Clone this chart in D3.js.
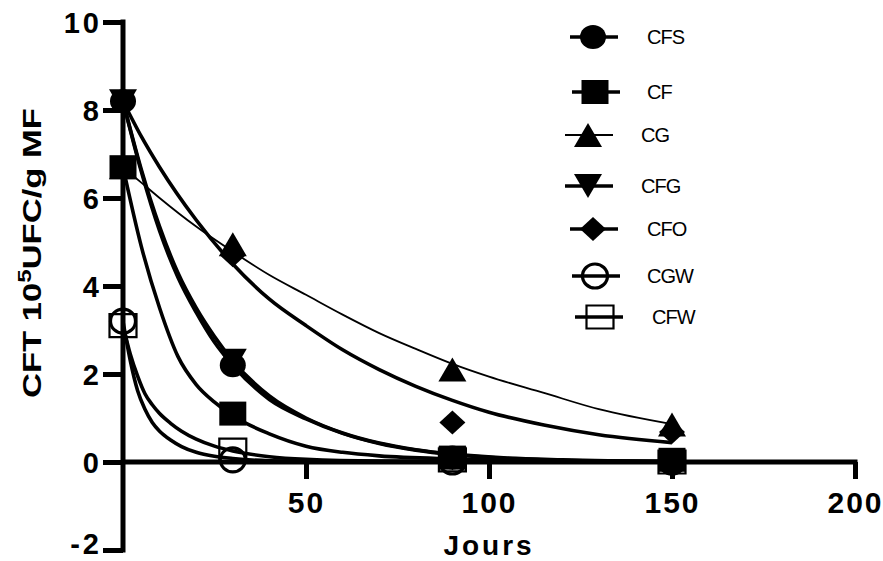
<!DOCTYPE html>
<html>
<head>
<meta charset="utf-8">
<script src="https://cdn.jsdelivr.net/npm/d3@7"></script>
<style>
  body { margin: 0; background: #fff; }
  svg { display: block; }
  text { font-family: "Liberation Sans", Arial, sans-serif; }
</style>
</head>
<body>
<svg></svg>
<script>
// sampling days
let days = [0, 30, 90, 150];
let seriesNames = ['CFS', 'CF', 'CG', 'CFG', 'CFO', 'CGW', 'CFW'];

// measured points (10^5 UFC/g), one value per day
let cfsValues = [8.2, 2.2, 0.1, 0.02];
let cfValues  = [6.7, 1.1, 0.1, 0.05];
let cgValues  = [6.7, 4.95, 2.1, 0.85];
let cfgValues = [8.2, 2.3, 0.08, 0.0];
let cfoValues = [8.2, 4.7, 0.9, 0.68];
let cgwValues = [3.2, 0.05, 0.0, 0.0];
let cfwValues = [3.1, 0.27, 0.05, 0.0];

// fitted decay curves: [day, value]
let cfsCurve = [[0, 8.2], [5, 6.6], [10, 5.25], [15, 4.2], [20, 3.4], [25, 2.72], [30, 2.2], [40, 1.42], [50, 0.98], [60, 0.65], [70, 0.42], [80, 0.27], [90, 0.17], [105, 0.08], [120, 0.04], [150, 0.01]];
let cfCurve  = [[0, 6.7], [5, 4.9], [10, 3.5], [15, 2.4], [20, 1.76], [25, 1.36], [30, 1.05], [40, 0.64], [50, 0.36], [60, 0.22], [70, 0.14], [90, 0.07], [120, 0.03], [150, 0.01]];
let cgCurve  = [[0, 6.7], [5, 6.35], [10, 6.0], [20, 5.35], [30, 4.78], [40, 4.25], [50, 3.8], [60, 3.35], [70, 2.93], [80, 2.57], [90, 2.23], [100, 1.94], [115, 1.57], [130, 1.2], [150, 0.86]];
let cfgCurve = [[0, 8.2], [5, 6.65], [10, 5.35], [15, 4.3], [20, 3.5], [25, 2.85], [30, 2.3], [40, 1.5], [50, 1.0], [60, 0.66], [70, 0.43], [80, 0.28], [90, 0.18], [105, 0.09], [120, 0.05], [150, 0.01]];
let cfoCurve = [[0, 8.2], [5, 7.4], [10, 6.7], [20, 5.5], [30, 4.5], [40, 3.7], [50, 3.1], [60, 2.55], [70, 2.1], [80, 1.72], [90, 1.4], [100, 1.13], [115, 0.84], [130, 0.62], [150, 0.44]];
let cgwCurve = [[0, 3.2], [2, 2.3], [4, 1.62], [6, 1.2], [8, 0.9], [10, 0.7], [13, 0.5], [16, 0.35], [20, 0.22], [25, 0.13], [30, 0.08], [40, 0.03], [60, 0.01], [150, 0]];
let cfwCurve = [[0, 3.1], [2, 2.45], [4, 1.95], [6, 1.55], [8, 1.3], [10, 1.1], [13, 0.88], [16, 0.7], [20, 0.52], [25, 0.36], [30, 0.25], [40, 0.12], [50, 0.06], [70, 0.02], [150, 0]];

let xTicks = [50, 100, 150, 200];
let yTicks = [-2, 0, 2, 4, 6, 8, 10];

let width = 883;
let height = 561;

let svg = d3.select('svg')
            .attr('width', width)
            .attr('height', height);

let xScale = d3.scaleLinear().domain([0, 200]).range([123, 855]);
let yScale = d3.scaleLinear().domain([-2, 10]).range([550, 22]);

// marker shapes, w x h box centred on 0,0
let shapePath = (shape, w, h) => {
    let a = w / 2, b = h / 2;
    if (shape === 'circle' || shape === 'ocircle') {
        return `M${-a},0A${a},${b} 0 1,0 ${a},0A${a},${b} 0 1,0 ${-a},0Z`;
    }
    if (shape === 'square' || shape === 'osquare') return `M${-a},${-b}H${a}V${b}H${-a}Z`;
    if (shape === 'up') return `M0,${-b}L${a},${b}L${-a},${b}Z`;
    if (shape === 'down') return `M0,${b}L${a},${-b}L${-a},${-b}Z`;
    if (shape === 'diamond') return `M0,${-b}L${a},0L0,${b}L${-a},0Z`;
};

let series = [
    { name: seriesNames[0], values: cfsValues, curve: cfsCurve, shape: 'circle', w: 26, h: 24, lw: 3.6 },
    { name: seriesNames[1], values: cfValues, curve: cfCurve, shape: 'square', w: 27, h: 24, lw: 3.6 },
    { name: seriesNames[2], values: cgValues, curve: cgCurve, shape: 'up', w: 28, h: 24, lw: 1.8 },
    { name: seriesNames[3], values: cfgValues, curve: cfgCurve, shape: 'down', w: 28, h: 24, lw: 3.6 },
    { name: seriesNames[4], values: cfoValues, curve: cfoCurve, shape: 'diamond', w: 26, h: 24, lw: 3.6 },
    { name: seriesNames[5], values: cgwValues, curve: cgwCurve, shape: 'ocircle', w: 25, h: 24, lw: 3.6 },
    { name: seriesNames[6], values: cfwValues, curve: cfwCurve, shape: 'osquare', w: 27, h: 23, lw: 3.6 }
];

// axes
let yAxis = d3.axisLeft(yScale)
              .tickValues(yTicks)
              .tickSize(20)
              .tickPadding(4)
              .tickFormat(d => String(d));
let xAxis = d3.axisBottom(xScale)
              .tickValues(xTicks)
              .tickSize(17)
              .tickPadding(13)
              .tickFormat(d3.format('d'));

let gy = svg.append('g')
            .attr('transform', `translate(${xScale(0)}, 0)`)
            .call(yAxis);

let gx = svg.append('g')
            .attr('transform', `translate(0, ${yScale(0)})`)
            .call(xAxis);

[gx, gy].forEach(g => {
    g.select('.domain').remove();
    g.selectAll('line').attr('stroke', '#000').attr('stroke-width', 5);
    g.selectAll('text')
     .attr('fill', '#000')
     .style('font-weight', 'bold');
});
gy.selectAll('text')
  .attr('dy', d => d === -2 ? '0.12em' : '0.36em')
  .attr('dx', 3)
  .style('font-size', '29px')
  .style('letter-spacing', '3px');
gx.selectAll('text')
  .style('font-size', '30px')
  .style('letter-spacing', '2px');

svg.append('line')
   .attr('x1', xScale(0)).attr('x2', xScale(0))
   .attr('y1', yScale(10) - 2.5).attr('y2', yScale(-2) + 2.5)
   .attr('stroke', '#000').attr('stroke-width', 5);

svg.append('line')
   .attr('x1', xScale(0)).attr('x2', xScale(200) + 2.5)
   .attr('y1', yScale(0)).attr('y2', yScale(0))
   .attr('stroke', '#000').attr('stroke-width', 5);

// axis titles
svg.append('text')
   .attr('x', 489)
   .attr('y', 555)
   .attr('text-anchor', 'middle')
   .style('font-size', '28px')
   .style('font-weight', 'bold')
   .style('letter-spacing', '3px')
   .text('Jours');

let yTitle = svg.append('text')
                .attr('transform', 'translate(41, 253) rotate(-90)')
                .attr('text-anchor', 'middle')
                .attr('textLength', 290)
                .attr('lengthAdjust', 'spacingAndGlyphs')
                .style('font-size', '26px')
                .style('font-weight', 'bold');
yTitle.append('tspan').text('CFT 10');
yTitle.append('tspan').attr('dy', -10).style('font-size', '18px').text('5');
yTitle.append('tspan').attr('dy', 10).text('UFC/g MF');

// curves
let line = d3.line()
             .x(d => xScale(d[0]))
             .y(d => yScale(d[1]))
             .curve(d3.curveMonotoneX);

svg.append('g')
   .selectAll('path')
   .data(series)
   .enter()
   .append('path')
   .attr('d', d => line(d.curve))
   .attr('fill', 'none')
   .attr('stroke', '#000')
   .attr('stroke-width', d => d.lw);

// markers
let drawMarker = (g, s) => {
    let open = s.shape === 'ocircle' || s.shape === 'osquare';
    return g.append('path')
            .attr('d', shapePath(s.shape, s.w, s.h))
            .attr('fill', open ? 'none' : '#000')
            .attr('stroke', '#000')
            .attr('stroke-width', s.shape === 'ocircle' ? 3.2 : (open ? 2.2 : 0));
};

series.forEach(s => {
    s.values.forEach((v, i) => {
        let g = svg.append('g').attr('transform', `translate(${xScale(days[i])}, ${yScale(v)})`);
        drawMarker(g, s);
    });
});

// legend
let legendRows = [
    { y: 37, x1: 570, x2: 618, mx: 593, tx: 647 },
    { y: 92, x1: 572, x2: 620, mx: 595, tx: 647 },
    { y: 135, x1: 565, x2: 613, mx: 588, tx: 641 },
    { y: 186, x1: 565, x2: 613, mx: 588, tx: 641 },
    { y: 229, x1: 570, x2: 618, mx: 593, tx: 647 },
    { y: 276, x1: 572, x2: 620, mx: 595, tx: 647 },
    { y: 317, x1: 575, x2: 623, mx: 600, tx: 652 }
];

let legend = svg.append('g').attr('id', 'legend');

series.forEach((s, i) => {
    let r = legendRows[i];
    legend.append('line')
          .attr('x1', r.x1).attr('x2', r.x2)
          .attr('y1', r.y).attr('y2', r.y)
          .attr('stroke', '#000')
          .attr('stroke-width', s.lw < 2 ? 1.8 : 3.4);
    let g = legend.append('g').attr('transform', `translate(${r.mx}, ${r.y})`);
    drawMarker(g, s);
    legend.append('text')
          .attr('x', r.tx)
          .attr('y', r.y)
          .attr('dy', '0.36em')
          .style('font-size', '20px')
          .style('letter-spacing', '-1px')
          .text(s.name);
});
</script>
</body>
</html>
